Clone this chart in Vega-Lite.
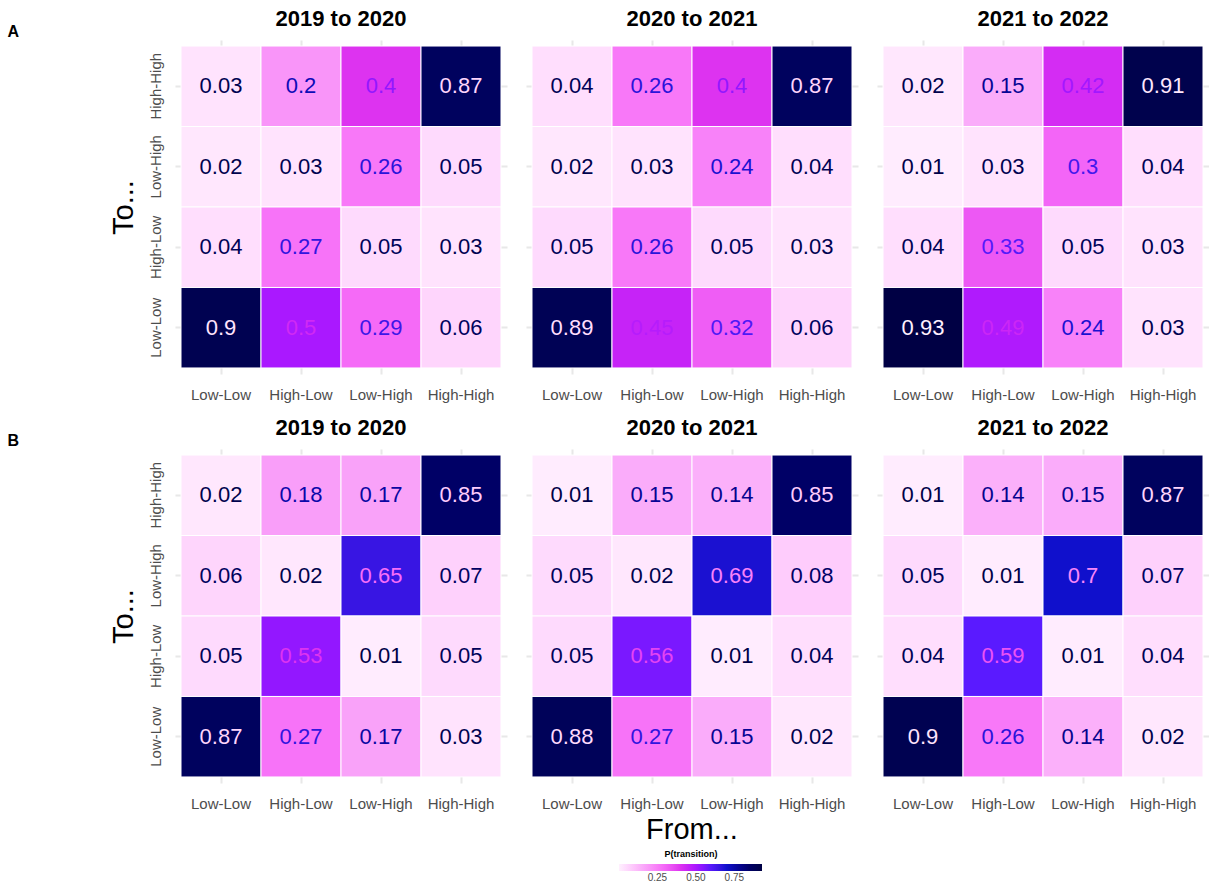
{
  "$schema": "https://vega.github.io/schema/vega-lite/v6.json",
  "padding": {"left": 7, "top": 8, "right": 0, "bottom": 0},
  "autosize": {"type": "pad"},
  "background": "white",
  "title": {"text": "From...", "orient": "bottom", "anchor": "middle", "frame": "group", "fontSize": 29, "fontWeight": "normal", "color": "black", "offset": -67, "dx": 517},
  "datasets": {
    "d": [
      {"g":"A","period":"2019 to 2020","to":"High-High","from":"Low-Low","p":0.03},
      {"g":"A","period":"2019 to 2020","to":"High-High","from":"High-Low","p":0.2},
      {"g":"A","period":"2019 to 2020","to":"High-High","from":"Low-High","p":0.4},
      {"g":"A","period":"2019 to 2020","to":"High-High","from":"High-High","p":0.87},
      {"g":"A","period":"2019 to 2020","to":"Low-High","from":"Low-Low","p":0.02},
      {"g":"A","period":"2019 to 2020","to":"Low-High","from":"High-Low","p":0.03},
      {"g":"A","period":"2019 to 2020","to":"Low-High","from":"Low-High","p":0.26},
      {"g":"A","period":"2019 to 2020","to":"Low-High","from":"High-High","p":0.05},
      {"g":"A","period":"2019 to 2020","to":"High-Low","from":"Low-Low","p":0.04},
      {"g":"A","period":"2019 to 2020","to":"High-Low","from":"High-Low","p":0.27},
      {"g":"A","period":"2019 to 2020","to":"High-Low","from":"Low-High","p":0.05},
      {"g":"A","period":"2019 to 2020","to":"High-Low","from":"High-High","p":0.03},
      {"g":"A","period":"2019 to 2020","to":"Low-Low","from":"Low-Low","p":0.9},
      {"g":"A","period":"2019 to 2020","to":"Low-Low","from":"High-Low","p":0.5},
      {"g":"A","period":"2019 to 2020","to":"Low-Low","from":"Low-High","p":0.29},
      {"g":"A","period":"2019 to 2020","to":"Low-Low","from":"High-High","p":0.06},

      {"g":"A","period":"2020 to 2021","to":"High-High","from":"Low-Low","p":0.04},
      {"g":"A","period":"2020 to 2021","to":"High-High","from":"High-Low","p":0.26},
      {"g":"A","period":"2020 to 2021","to":"High-High","from":"Low-High","p":0.4},
      {"g":"A","period":"2020 to 2021","to":"High-High","from":"High-High","p":0.87},
      {"g":"A","period":"2020 to 2021","to":"Low-High","from":"Low-Low","p":0.02},
      {"g":"A","period":"2020 to 2021","to":"Low-High","from":"High-Low","p":0.03},
      {"g":"A","period":"2020 to 2021","to":"Low-High","from":"Low-High","p":0.24},
      {"g":"A","period":"2020 to 2021","to":"Low-High","from":"High-High","p":0.04},
      {"g":"A","period":"2020 to 2021","to":"High-Low","from":"Low-Low","p":0.05},
      {"g":"A","period":"2020 to 2021","to":"High-Low","from":"High-Low","p":0.26},
      {"g":"A","period":"2020 to 2021","to":"High-Low","from":"Low-High","p":0.05},
      {"g":"A","period":"2020 to 2021","to":"High-Low","from":"High-High","p":0.03},
      {"g":"A","period":"2020 to 2021","to":"Low-Low","from":"Low-Low","p":0.89},
      {"g":"A","period":"2020 to 2021","to":"Low-Low","from":"High-Low","p":0.45},
      {"g":"A","period":"2020 to 2021","to":"Low-Low","from":"Low-High","p":0.32},
      {"g":"A","period":"2020 to 2021","to":"Low-Low","from":"High-High","p":0.06},

      {"g":"A","period":"2021 to 2022","to":"High-High","from":"Low-Low","p":0.02},
      {"g":"A","period":"2021 to 2022","to":"High-High","from":"High-Low","p":0.15},
      {"g":"A","period":"2021 to 2022","to":"High-High","from":"Low-High","p":0.42},
      {"g":"A","period":"2021 to 2022","to":"High-High","from":"High-High","p":0.91},
      {"g":"A","period":"2021 to 2022","to":"Low-High","from":"Low-Low","p":0.01},
      {"g":"A","period":"2021 to 2022","to":"Low-High","from":"High-Low","p":0.03},
      {"g":"A","period":"2021 to 2022","to":"Low-High","from":"Low-High","p":0.3},
      {"g":"A","period":"2021 to 2022","to":"Low-High","from":"High-High","p":0.04},
      {"g":"A","period":"2021 to 2022","to":"High-Low","from":"Low-Low","p":0.04},
      {"g":"A","period":"2021 to 2022","to":"High-Low","from":"High-Low","p":0.33},
      {"g":"A","period":"2021 to 2022","to":"High-Low","from":"Low-High","p":0.05},
      {"g":"A","period":"2021 to 2022","to":"High-Low","from":"High-High","p":0.03},
      {"g":"A","period":"2021 to 2022","to":"Low-Low","from":"Low-Low","p":0.93},
      {"g":"A","period":"2021 to 2022","to":"Low-Low","from":"High-Low","p":0.49},
      {"g":"A","period":"2021 to 2022","to":"Low-Low","from":"Low-High","p":0.24},
      {"g":"A","period":"2021 to 2022","to":"Low-Low","from":"High-High","p":0.03},

      {"g":"B","period":"2019 to 2020","to":"High-High","from":"Low-Low","p":0.02},
      {"g":"B","period":"2019 to 2020","to":"High-High","from":"High-Low","p":0.18},
      {"g":"B","period":"2019 to 2020","to":"High-High","from":"Low-High","p":0.17},
      {"g":"B","period":"2019 to 2020","to":"High-High","from":"High-High","p":0.85},
      {"g":"B","period":"2019 to 2020","to":"Low-High","from":"Low-Low","p":0.06},
      {"g":"B","period":"2019 to 2020","to":"Low-High","from":"High-Low","p":0.02},
      {"g":"B","period":"2019 to 2020","to":"Low-High","from":"Low-High","p":0.65},
      {"g":"B","period":"2019 to 2020","to":"Low-High","from":"High-High","p":0.07},
      {"g":"B","period":"2019 to 2020","to":"High-Low","from":"Low-Low","p":0.05},
      {"g":"B","period":"2019 to 2020","to":"High-Low","from":"High-Low","p":0.53},
      {"g":"B","period":"2019 to 2020","to":"High-Low","from":"Low-High","p":0.01},
      {"g":"B","period":"2019 to 2020","to":"High-Low","from":"High-High","p":0.05},
      {"g":"B","period":"2019 to 2020","to":"Low-Low","from":"Low-Low","p":0.87},
      {"g":"B","period":"2019 to 2020","to":"Low-Low","from":"High-Low","p":0.27},
      {"g":"B","period":"2019 to 2020","to":"Low-Low","from":"Low-High","p":0.17},
      {"g":"B","period":"2019 to 2020","to":"Low-Low","from":"High-High","p":0.03},

      {"g":"B","period":"2020 to 2021","to":"High-High","from":"Low-Low","p":0.01},
      {"g":"B","period":"2020 to 2021","to":"High-High","from":"High-Low","p":0.15},
      {"g":"B","period":"2020 to 2021","to":"High-High","from":"Low-High","p":0.14},
      {"g":"B","period":"2020 to 2021","to":"High-High","from":"High-High","p":0.85},
      {"g":"B","period":"2020 to 2021","to":"Low-High","from":"Low-Low","p":0.05},
      {"g":"B","period":"2020 to 2021","to":"Low-High","from":"High-Low","p":0.02},
      {"g":"B","period":"2020 to 2021","to":"Low-High","from":"Low-High","p":0.69},
      {"g":"B","period":"2020 to 2021","to":"Low-High","from":"High-High","p":0.08},
      {"g":"B","period":"2020 to 2021","to":"High-Low","from":"Low-Low","p":0.05},
      {"g":"B","period":"2020 to 2021","to":"High-Low","from":"High-Low","p":0.56},
      {"g":"B","period":"2020 to 2021","to":"High-Low","from":"Low-High","p":0.01},
      {"g":"B","period":"2020 to 2021","to":"High-Low","from":"High-High","p":0.04},
      {"g":"B","period":"2020 to 2021","to":"Low-Low","from":"Low-Low","p":0.88},
      {"g":"B","period":"2020 to 2021","to":"Low-Low","from":"High-Low","p":0.27},
      {"g":"B","period":"2020 to 2021","to":"Low-Low","from":"Low-High","p":0.15},
      {"g":"B","period":"2020 to 2021","to":"Low-Low","from":"High-High","p":0.02},

      {"g":"B","period":"2021 to 2022","to":"High-High","from":"Low-Low","p":0.01},
      {"g":"B","period":"2021 to 2022","to":"High-High","from":"High-Low","p":0.14},
      {"g":"B","period":"2021 to 2022","to":"High-High","from":"Low-High","p":0.15},
      {"g":"B","period":"2021 to 2022","to":"High-High","from":"High-High","p":0.87},
      {"g":"B","period":"2021 to 2022","to":"Low-High","from":"Low-Low","p":0.05},
      {"g":"B","period":"2021 to 2022","to":"Low-High","from":"High-Low","p":0.01},
      {"g":"B","period":"2021 to 2022","to":"Low-High","from":"Low-High","p":0.7},
      {"g":"B","period":"2021 to 2022","to":"Low-High","from":"High-High","p":0.07},
      {"g":"B","period":"2021 to 2022","to":"High-Low","from":"Low-Low","p":0.04},
      {"g":"B","period":"2021 to 2022","to":"High-Low","from":"High-Low","p":0.59},
      {"g":"B","period":"2021 to 2022","to":"High-Low","from":"Low-High","p":0.01},
      {"g":"B","period":"2021 to 2022","to":"High-Low","from":"High-High","p":0.04},
      {"g":"B","period":"2021 to 2022","to":"Low-Low","from":"Low-Low","p":0.9},
      {"g":"B","period":"2021 to 2022","to":"Low-Low","from":"High-Low","p":0.26},
      {"g":"B","period":"2021 to 2022","to":"Low-Low","from":"Low-High","p":0.14},
      {"g":"B","period":"2021 to 2022","to":"Low-Low","from":"High-High","p":0.02}
    ]
  },
  "config": {
    "font": "Liberation Sans",
    "view": {"stroke": null},
    "axis": {
      "grid": true,
      "gridColor": "#e8e8e8",
      "gridWidth": 2,
      "ticks": false,
      "domain": false,
      "labelColor": "#4d4d4d",
      "labelFontSize": 15,
      "titleFontWeight": "normal",
      "titleColor": "black",
      "bandPosition": 0.5,
      "zindex": 0
    },
    "legend": {
      "gradientStrokeWidth": 0
    }
  },
  "spacing": 15,
  "vconcat": [
    {
      "data": {"name": "d"},
      "transform": [{"filter": "datum.g === 'A'"}],
      "facet": {
        "row": {"field": "g", "type": "nominal", "header": {"title": null, "labelAngle": 0, "labelOrient": "left", "labelAnchor": "end", "labelAlign": "left", "labelBaseline": "bottom", "labelExpr": "[datum.label, '']", "labelLineHeight": 3, "labelFontSize": 16, "labelFontWeight": "bold", "labelColor": "black", "labelPadding": 90}},
        "column": {"field": "period", "type": "nominal", "header": {"title": null, "labelFontSize": 22, "labelFontWeight": "bold", "labelColor": "black", "labelPadding": 9}}
      },
      "spacing": {"column": 19},
      "spec": {
        "width": 332,
        "height": 334,
        "encoding": {
          "x": {"field": "from", "type": "nominal", "sort": ["Low-Low", "High-Low", "Low-High", "High-High"], "scale": {"paddingInner": 0, "paddingOuter": 0.075}, "axis": {"labelAngle": 0, "labelPadding": 13, "title": null}},
          "y": {"field": "to", "type": "nominal", "sort": ["High-High", "Low-High", "High-Low", "Low-Low"], "scale": {"paddingInner": 0, "paddingOuter": 0.075}, "axis": {"labelAngle": -90, "labelPadding": 12, "title": "To...", "titleFontSize": 29, "titlePadding": 10}}
        },
        "layer": [
          {"mark": {"type": "rect", "stroke": "white", "strokeWidth": 1}, "encoding": {"fill": {"field": "p", "type": "quantitative", "title": "P(transition)", "scale": {"domain": [0, 0.17, 0.28, 0.4, 0.5, 0.59, 0.7, 0.85, 0.93], "range": ["#fff0fe", "#f9a2f9", "#f76ef8", "#dd33f0", "#aa18ff", "#5a1aff", "#1010cc", "#000066", "#000044"]}, "legend": {"orient": "none", "direction": "horizontal", "legendX": 444, "legendY": 810, "values": [0.25, 0.5, 0.75], "format": ".2f", "gradientLength": 143, "gradientThickness": 7, "titleOrient": "top", "titleAnchor": "middle", "titleFontSize": 9, "titleFontWeight": "bold", "titleColor": "black", "labelFontSize": 10, "labelColor": "#4d4d4d"}}}},
          {"mark": {"type": "text", "fontSize": 22}, "encoding": {"text": {"field": "p", "type": "quantitative", "format": ""}, "color": {"field": "p", "type": "quantitative", "scale": {"domain": [0, 0.08, 0.23, 0.34, 0.43, 0.53, 0.65, 0.76, 0.93], "range": ["#000044", "#000066", "#1010cc", "#5a1aff", "#aa18ff", "#dd33f0", "#f76ef8", "#f9a2f9", "#fff0fe"]}, "legend": null}}}
        ]
      }
    },
    {
      "data": {"name": "d"},
      "transform": [{"filter": "datum.g === 'B'"}],
      "facet": {
        "row": {"field": "g", "type": "nominal", "header": {"title": null, "labelAngle": 0, "labelOrient": "left", "labelAnchor": "end", "labelAlign": "left", "labelBaseline": "bottom", "labelExpr": "[datum.label, '']", "labelLineHeight": 3, "labelFontSize": 16, "labelFontWeight": "bold", "labelColor": "black", "labelPadding": 90}},
        "column": {"field": "period", "type": "nominal", "header": {"title": null, "labelFontSize": 22, "labelFontWeight": "bold", "labelColor": "black", "labelPadding": 9}}
      },
      "spacing": {"column": 19},
      "spec": {
        "width": 332,
        "height": 334,
        "encoding": {
          "x": {"field": "from", "type": "nominal", "sort": ["Low-Low", "High-Low", "Low-High", "High-High"], "scale": {"paddingInner": 0, "paddingOuter": 0.075}, "axis": {"labelAngle": 0, "labelPadding": 13, "title": null}},
          "y": {"field": "to", "type": "nominal", "sort": ["High-High", "Low-High", "High-Low", "Low-Low"], "scale": {"paddingInner": 0, "paddingOuter": 0.075}, "axis": {"labelAngle": -90, "labelPadding": 12, "title": "To...", "titleFontSize": 29, "titlePadding": 10}}
        },
        "layer": [
          {"mark": {"type": "rect", "stroke": "white", "strokeWidth": 1}, "encoding": {"fill": {"field": "p", "type": "quantitative", "title": "P(transition)", "scale": {"domain": [0, 0.17, 0.28, 0.4, 0.5, 0.59, 0.7, 0.85, 0.93], "range": ["#fff0fe", "#f9a2f9", "#f76ef8", "#dd33f0", "#aa18ff", "#5a1aff", "#1010cc", "#000066", "#000044"]}, "legend": {"orient": "none", "direction": "horizontal", "legendX": 444, "legendY": 810, "values": [0.25, 0.5, 0.75], "format": ".2f", "gradientLength": 143, "gradientThickness": 7, "titleOrient": "top", "titleAnchor": "middle", "titleFontSize": 9, "titleFontWeight": "bold", "titleColor": "black", "labelFontSize": 10, "labelColor": "#4d4d4d"}}}},
          {"mark": {"type": "text", "fontSize": 22}, "encoding": {"text": {"field": "p", "type": "quantitative", "format": ""}, "color": {"field": "p", "type": "quantitative", "scale": {"domain": [0, 0.08, 0.23, 0.34, 0.43, 0.53, 0.65, 0.76, 0.93], "range": ["#000044", "#000066", "#1010cc", "#5a1aff", "#aa18ff", "#dd33f0", "#f76ef8", "#f9a2f9", "#fff0fe"]}, "legend": null}}}
        ]
      }
    }
  ]
}
